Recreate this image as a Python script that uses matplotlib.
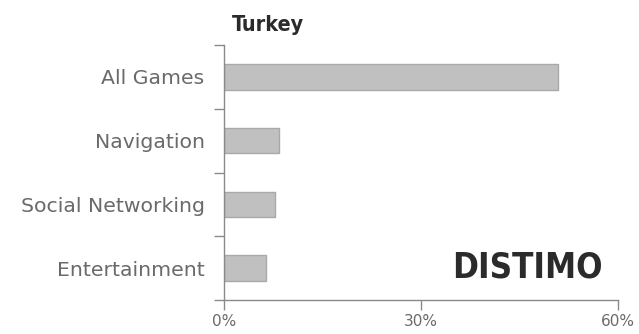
import numpy as np
import matplotlib.pyplot as plt
from matplotlib.ticker import FixedLocator, PercentFormatter

# category shares of top grossing apps, Turkey
categories = ['All Games', 'Navigation', 'Social Networking', 'Entertainment']
shares = [50.9, 8.4, 7.8, 6.4]
x_ticks = [0, 30, 60]

fig = plt.figure(figsize=(6.39, 3.34), dpi=100)
ax = fig.add_axes([224 / 639, 1 - 300 / 334, 394 / 639, 255 / 334])

pos = np.arange(len(categories))
ax.barh(pos, shares, height=0.4, color='#c0c0c0', edgecolor='#a9a9a9', linewidth=1)

ax.set_xlim(0, 60)
ax.set_ylim(len(categories) - 0.5, -0.5)
ax.set_xticks(x_ticks)
ax.xaxis.set_major_formatter(PercentFormatter(decimals=0))

# labels sit in the middle of each band, ticks mark the band edges
ax.set_yticks(pos)
ax.set_yticklabels(categories)
ax.yaxis.set_minor_locator(FixedLocator(np.arange(len(categories) + 1) - 0.5))
ax.tick_params(axis='y', which='major', length=0, pad=14, labelsize=14.7, labelcolor='#6a6a6a')
ax.tick_params(axis='y', which='minor', length=7, width=1, color='#8a8a8a')
ax.tick_params(axis='x', length=7, width=1, color='#8a8a8a', labelsize=11, labelcolor='#6a6a6a', pad=3)

for side in ['top', 'right']:
    ax.spines[side].set_visible(False)
for side in ['left', 'bottom']:
    ax.spines[side].set_color('#8a8a8a')
    ax.spines[side].set_linewidth(1)

fig.text(232 / 639, 1 - 25 / 334, 'Turkey', fontsize=15.5, fontweight='bold', fontstretch='condensed',
         family='DejaVu Sans', color='#2b2b2b', va='center', ha='left')
fig.text(603 / 639, 1 - 268 / 334, 'DISTIMO', fontsize=25, fontweight='bold', fontstretch='condensed',
         family='DejaVu Sans', color='#2b2b2b', va='center', ha='right')

fig.savefig('out.png', dpi=100)
